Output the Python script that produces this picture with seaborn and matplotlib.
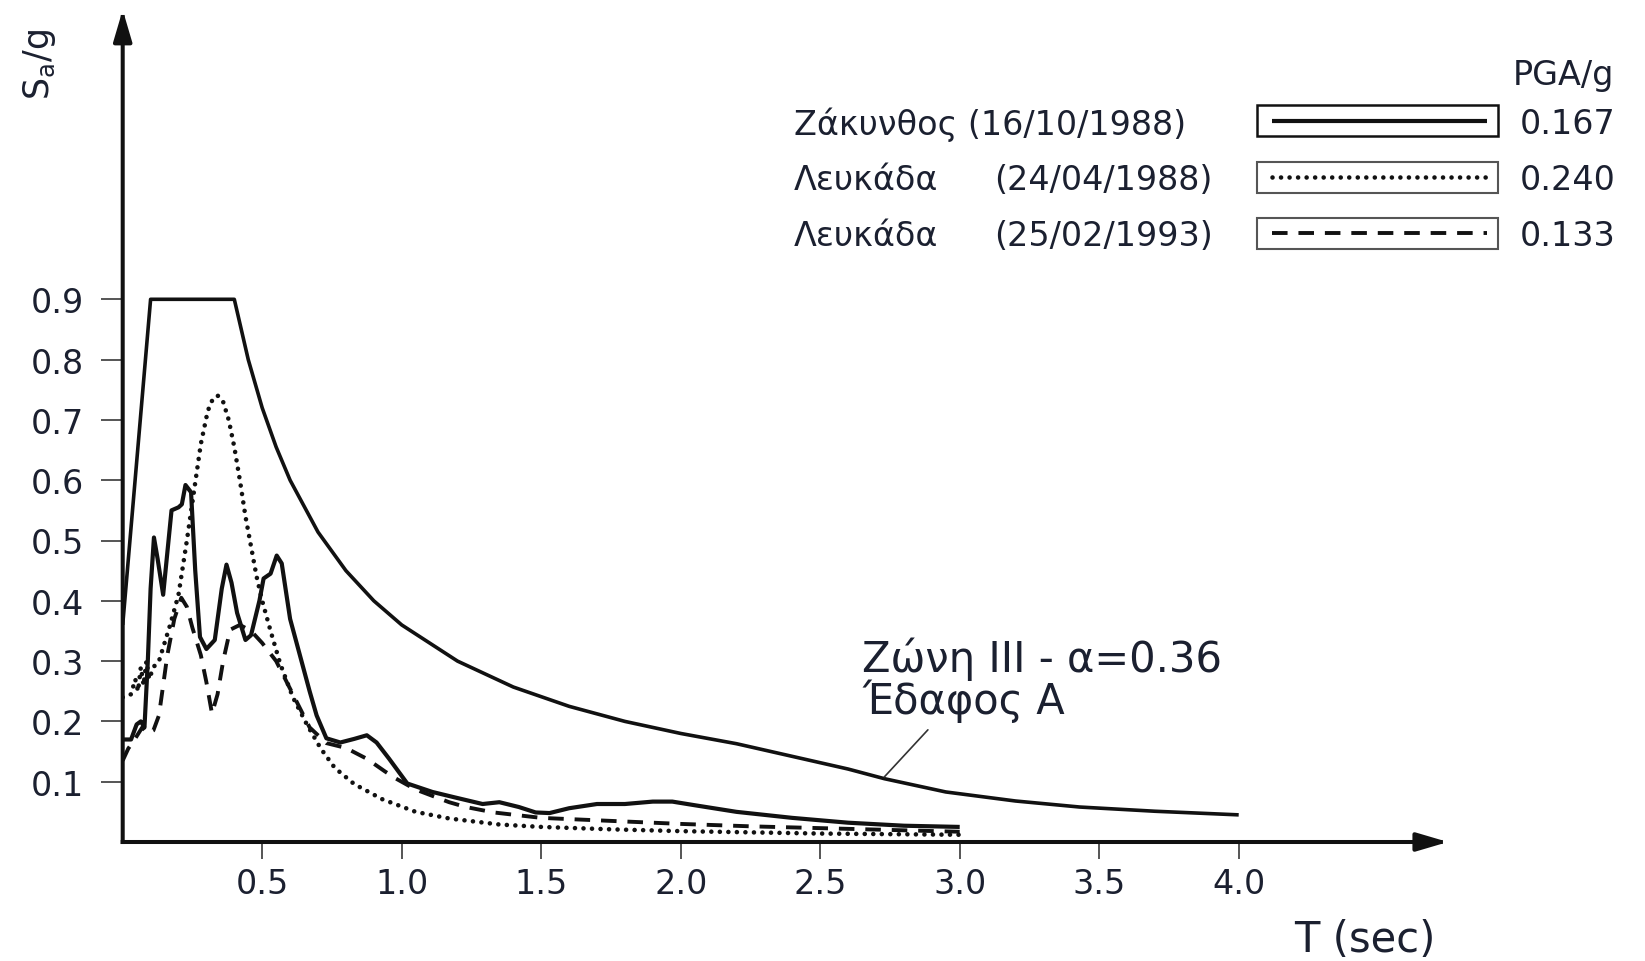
import matplotlib
matplotlib.use("Agg")
import matplotlib.pyplot as plt
import seaborn as sns
from matplotlib.patches import Rectangle
from matplotlib.lines import Line2D

# ---------------- data ----------------
# Design spectrum  (Ζώνη III - α=0.36, Έδαφος Α)
des_T = [0.0, 0.1, 0.4, 0.45, 0.5, 0.55, 0.6, 0.7, 0.8, 0.9, 1.0, 1.2, 1.4, 1.6, 1.8,
         2.0, 2.2, 2.4, 2.6, 2.73, 2.95, 3.2, 3.43, 3.7, 4.0]
des_v = [0.36, 0.9, 0.9, 0.80, 0.72, 0.655, 0.60, 0.514, 0.45, 0.40, 0.36, 0.30, 0.257, 0.225, 0.20,
         0.18, 0.163, 0.142, 0.121, 0.105, 0.083, 0.068, 0.058, 0.051, 0.045]

# Ζάκυνθος (16/10/1988) - solid
zak_T = [0.0, 0.03, 0.05, 0.065, 0.078, 0.09, 0.10, 0.112, 0.125, 0.145, 0.16, 0.175, 0.20, 0.212,
         0.225, 0.245, 0.26, 0.277, 0.30, 0.33, 0.355, 0.372, 0.39, 0.41, 0.44, 0.46, 0.49, 0.505,
         0.53, 0.552, 0.57, 0.60, 0.635, 0.67, 0.695, 0.73, 0.78, 0.83, 0.875, 0.91, 0.955, 1.02,
         1.11, 1.19, 1.29, 1.35, 1.42, 1.48, 1.53, 1.60, 1.70, 1.80, 1.90, 1.97, 2.05, 2.2, 2.4,
         2.6, 2.8, 3.0]
zak_v = [0.17, 0.17, 0.195, 0.20, 0.19, 0.30, 0.42, 0.505, 0.47, 0.41, 0.48, 0.55, 0.555, 0.56,
         0.592, 0.58, 0.45, 0.34, 0.32, 0.335, 0.42, 0.46, 0.43, 0.38, 0.335, 0.343, 0.40, 0.437,
         0.445, 0.475, 0.462, 0.37, 0.31, 0.25, 0.21, 0.172, 0.165, 0.171, 0.177, 0.165, 0.138, 0.097,
         0.083, 0.074, 0.063, 0.066, 0.058, 0.049, 0.048, 0.056, 0.063, 0.063, 0.067, 0.067, 0.061,
         0.05, 0.04, 0.032, 0.027, 0.025]

# Λευκάδα (24/04/1988) - dotted
lef88_T = [0.0, 0.03, 0.045, 0.055, 0.065, 0.075, 0.085, 0.095, 0.11, 0.13, 0.15, 0.17, 0.20, 0.23,
           0.255, 0.28, 0.305, 0.325, 0.342, 0.36, 0.38, 0.40, 0.42, 0.44, 0.46, 0.48, 0.50, 0.53,
           0.565, 0.61, 0.66, 0.71, 0.76, 0.83, 0.93, 1.05, 1.17, 1.35, 1.5, 1.75, 2.0, 2.25, 2.5,
           2.75, 3.0]
lef88_v = [0.24, 0.245, 0.27, 0.25, 0.29, 0.26, 0.30, 0.27, 0.29, 0.30, 0.33, 0.36, 0.41, 0.50,
           0.58, 0.66, 0.715, 0.737, 0.74, 0.73, 0.70, 0.655, 0.60, 0.54, 0.49, 0.44, 0.40, 0.35,
           0.295, 0.24, 0.195, 0.155, 0.123, 0.096, 0.071, 0.05, 0.039, 0.029, 0.025, 0.021, 0.018,
           0.016, 0.014, 0.013, 0.012]

# Λευκάδα (25/02/1993) - dashed
lef93_T = [0.0, 0.02, 0.04, 0.07, 0.09, 0.11, 0.13, 0.145, 0.16, 0.185, 0.21, 0.23, 0.25, 0.28,
           0.30, 0.32, 0.34, 0.36, 0.385, 0.42, 0.46, 0.50, 0.55, 0.61, 0.67, 0.73, 0.80, 0.875,
           0.94, 0.98, 1.05, 1.17, 1.23, 1.33, 1.5, 1.75, 2.0, 2.25, 2.5, 2.75, 3.0]
lef93_v = [0.135, 0.155, 0.168, 0.19, 0.18, 0.185, 0.21, 0.26, 0.31, 0.37, 0.405, 0.39, 0.355, 0.31,
           0.265, 0.213, 0.245, 0.30, 0.352, 0.36, 0.35, 0.33, 0.30, 0.245, 0.19, 0.164, 0.156, 0.138,
           0.117, 0.105, 0.087, 0.066, 0.058, 0.049, 0.04, 0.035, 0.03, 0.026, 0.023, 0.02, 0.017]

x_ticks = [0.5, 1.0, 1.5, 2.0, 2.5, 3.0, 3.5, 4.0]
x_tick_labels = ["0.5", "1.0", "1.5", "2.0", "2.5", "3.0", "3.5", "4.0"]
y_ticks = [0.1, 0.2, 0.3, 0.4, 0.5, 0.6, 0.7, 0.8, 0.9]
y_tick_labels = ["0.1", "0.2", "0.3", "0.4", "0.5", "0.6", "0.7", "0.8", "0.9"]

legend_names = ["Ζάκυνθος", "Λευκάδα", "Λευκάδα"]
legend_dates = ["(16/10/1988)", "(24/04/1988)", "(25/02/1993)"]
legend_pga = ["0.167", "0.240", "0.133"]

# ---------------- style ----------------
sns.set_style("white")
plt.rcParams["font.family"] = ["DejaVu Sans"]
plt.rcParams["mathtext.fontset"] = "dejavusans"

INK = "#111111"
TXT = "#1b2030"
W, H = 1645, 962

styles = {
    "solid": dict(lw=3.0, dashes=None, cap="butt"),
    "design": dict(lw=2.6, dashes=None, cap="butt"),
    "dotted": dict(lw=3.3, dashes=(0.01, 1.85), cap="round"),
    "dashed": dict(lw=2.8, dashes=(4.0, 2.8), cap="butt"),
}


def P(x, y):
    return (x / W, 1 - y / H)


fig = plt.figure(figsize=(W / 100, H / 100), dpi=100)
fig.patch.set_facecolor("white")

x0px, y0px = 122.7, 843.0
pxT, pxV = 279.0, 603.0
xmax, ymax = 4.75, 1.38
ax = fig.add_axes([x0px / W, (H - y0px) / H, xmax * pxT / W, ymax * pxV / H])
ax.set_facecolor("white")


def style_line(line, key):
    st = styles[key]
    line.set_linewidth(st["lw"])
    line.set_color(INK)
    if st["dashes"] is not None:
        line.set_dashes(st["dashes"])
    line.set_dash_capstyle(st["cap"])
    line.set_solid_capstyle("butt")
    line.set_solid_joinstyle("round")


series = [(des_T, des_v, "design"), (zak_T, zak_v, "solid"),
          (lef88_T, lef88_v, "dotted"), (lef93_T, lef93_v, "dashed")]
for T, v, key in series:
    sns.lineplot(x=T, y=v, ax=ax, color=INK, estimator=None, sort=False)
    style_line(ax.lines[-1], key)

ax.set_xlim(0, xmax)
ax.set_ylim(0, ymax)
for s in ax.spines.values():
    s.set_visible(False)
ax.grid(False)

ax.set_xticks(x_ticks)
ax.set_xticklabels(x_tick_labels)
ax.set_yticks(y_ticks)
ax.set_yticklabels(y_tick_labels)
ax.tick_params(axis="y", direction="out", length=16, width=1.4, color="#555555",
               pad=12, labelsize=24, labelcolor=TXT, left=True)
ax.tick_params(axis="x", direction="out", length=12, width=1.4, color="#555555",
               pad=6, labelsize=24, labelcolor=TXT, bottom=True)
ax.set_xlabel("")
ax.set_ylabel("")

# axis lines with arrow heads
arrow_kw = dict(arrowstyle="-|>,head_length=0.95,head_width=0.28", lw=2.9, color=INK,
                shrinkA=0, shrinkB=0, mutation_scale=20, capstyle="projecting")
ax.annotate("", xy=(0, 1), xytext=(0, 0), xycoords="axes fraction",
            arrowprops=arrow_kw, annotation_clip=False)
ax.annotate("", xy=(1, 0), xytext=(0, 0), xycoords="axes fraction",
            arrowprops=arrow_kw, annotation_clip=False)

# leader line of the design-spectrum label
ax.annotate("", xy=(2.73, 0.108), xytext=(2.886, 0.186),
            arrowprops=dict(arrowstyle="-", lw=1.2, color="#333333", shrinkA=0, shrinkB=0))

# axis titles
fig.text(*P(40, 65), r"S$_{\mathrm{a}}$/g", rotation=90, ha="center", va="center",
         fontsize=25, color=TXT)
fig.text(*P(1365, 940), "T (sec)", ha="center", va="center", fontsize=30, color=TXT)

# design label (two lines in one text)
fig.text(*P(862, 680), "Ζώνη III - α=0.36\nΈδαφος Α", ha="left", va="center",
         fontsize=30, color=TXT, linespacing=0.95)

# legend
fig.text(*P(1513, 75), "PGA/g", ha="left", va="center", fontsize=24, color=TXT)
rows_y = [121.5, 178.0, 234.0]
row_keys = ["solid", "dotted", "dashed"]
box_ec = ["#111111", "#555555", "#555555"]
box_lw = [1.8, 1.5, 1.5]
for i, yc in enumerate(rows_y):
    if i == 0:
        fig.text(*P(794, yc + 3), f"{legend_names[i]} {legend_dates[i]}", ha="left",
                 va="center", fontsize=24, color=TXT)
    else:
        fig.text(*P(794, yc + 3), legend_names[i], ha="left", va="center", fontsize=24, color=TXT)
        fig.text(*P(994, yc + 3), legend_dates[i], ha="left", va="center", fontsize=24, color=TXT)
    fig.text(*P(1520, yc + 3), legend_pga[i], ha="left", va="center", fontsize=24, color=TXT)
    bx, by = P(1257, yc + 15.5)
    fig.add_artist(Rectangle((bx, by), 241 / W, 31 / H, transform=fig.transFigure,
                             fill=False, ec=box_ec[i], lw=box_lw[i]))
    ln = Line2D([1272 / W, 1487 / W], [1 - yc / H, 1 - yc / H], transform=fig.transFigure)
    style_line(ln, row_keys[i])
    fig.add_artist(ln)

fig.savefig("out.png", dpi=100, facecolor="white")
